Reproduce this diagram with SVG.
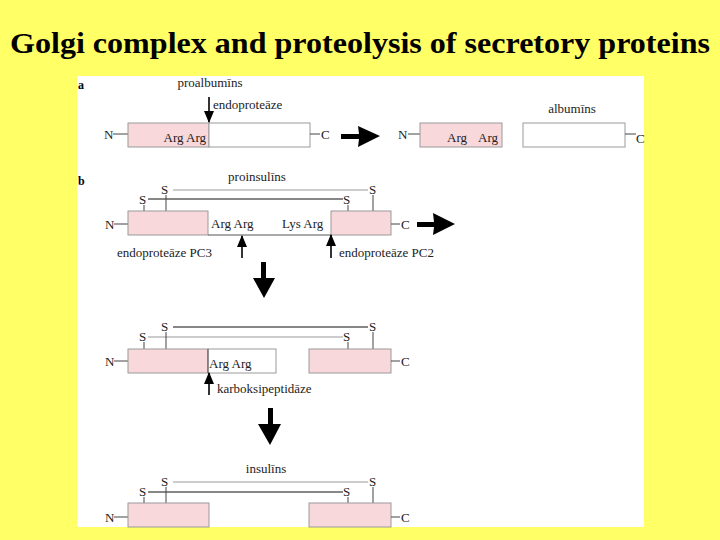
<svg xmlns="http://www.w3.org/2000/svg" width="720" height="540" viewBox="0 0 720 540">
<style>
.t{font-family:"Liberation Serif","Times New Roman",serif;font-size:13px;fill:#222}
.lab{font-family:"Liberation Serif","Times New Roman",serif;font-size:12px;font-weight:bold;fill:#000}
.pk{fill:#F8D8DA;stroke:#9a9a9a;stroke-width:1}
.wh{fill:#fff;stroke:#9a9a9a;stroke-width:1}
.ln{stroke:#444;stroke-width:1;fill:none}
.gl{stroke:#999;stroke-width:1.2;fill:none}
.bl{stroke:#111;stroke-width:1.2;fill:none}
.ar{stroke:#000;stroke-width:1.6;fill:none}
.big{fill:#000}
</style>
<defs>
<marker id="ah" viewBox="0 0 12 10" refX="11" refY="5" markerWidth="12" markerHeight="11" orient="auto" markerUnits="userSpaceOnUse">
<path d="M0,0 L12,5 L0,10 z" fill="#000"/>
</marker>
</defs>
<rect x="0" y="0" width="720" height="540" fill="#FFFF66"/>
<text x="10" y="53" textLength="700" lengthAdjust="spacingAndGlyphs" font-family="'Liberation Serif','Times New Roman',serif" font-weight="bold" font-size="30" fill="#000">Golgi complex and proteolysis of secretory proteins</text>
<rect x="77" y="76" width="567" height="451" fill="#fff"/>

<text class="lab" x="78" y="89">a</text>
<text class="lab" x="78" y="185">b</text>

<g id="proalbumin">
<text class="t" x="210" y="87" text-anchor="middle">proalbumīns</text>
<line class="ln" x1="113" y1="134" x2="128" y2="134"/>
<text class="t" x="104" y="139">N</text>
<rect class="pk" x="128" y="123" width="81" height="24"/>
<rect class="wh" x="209" y="123" width="101" height="24"/>
<text class="t" x="206" y="142" text-anchor="end">Arg Arg</text>
<line class="ln" x1="310" y1="134" x2="320" y2="134"/>
<text class="t" x="321" y="139">C</text>
<text class="t" x="213" y="109">endoproteāze</text>
</g>

<g id="albumin">
<line class="ln" x1="408" y1="134" x2="420" y2="134"/>
<text class="t" x="398" y="139">N</text>
<rect class="pk" x="420" y="123" width="82" height="24"/>
<text class="t" x="447" y="142">Arg</text>
<text class="t" x="478" y="142">Arg</text>
<rect class="wh" x="523" y="123" width="102" height="24"/>
<line class="ln" x1="625" y1="134" x2="636" y2="134"/>
<text class="t" x="636" y="143">C</text>
<text class="t" x="572" y="113" text-anchor="middle">albumīns</text>
</g>

<g id="proinsulin">
<text class="t" x="257" y="181" text-anchor="middle">proinsulīns</text>
<line class="gl" x1="173" y1="190" x2="368" y2="190"/>
<text class="t" x="161" y="194">S</text>
<text class="t" x="369" y="194">S</text>
<line class="bl" x1="148" y1="199" x2="343" y2="199"/>
<text class="t" x="139" y="204">S</text>
<text class="t" x="343" y="204">S</text>
<line class="ln" x1="144" y1="205" x2="144" y2="211"/>
<line class="ln" x1="166" y1="195" x2="166" y2="211"/>
<line class="ln" x1="348" y1="205" x2="348" y2="211"/>
<line class="ln" x1="373" y1="195" x2="373" y2="211"/>
<line class="ln" x1="114" y1="224" x2="128" y2="224"/>
<text class="t" x="105" y="229">N</text>
<rect class="pk" x="128" y="211" width="80" height="24"/>
<line x1="208" y1="235" x2="331" y2="235" stroke="#555" stroke-width="1"/>
<rect class="pk" x="331" y="211" width="60" height="24"/>
<text class="t" x="211" y="228">Arg Arg</text>
<text class="t" x="282" y="228">Lys Arg</text>
<line class="ln" x1="391" y1="224" x2="400" y2="224"/>
<text class="t" x="401" y="229">C</text>
<text class="t" x="117" y="257">endoproteāze PC3</text>
<text class="t" x="339" y="257">endoproteāze PC2</text>
</g>

<g id="intermediate">
<line class="bl" x1="173" y1="327" x2="368" y2="327"/>
<text class="t" x="161" y="331">S</text>
<text class="t" x="369" y="331">S</text>
<line class="gl" x1="148" y1="337" x2="343" y2="337"/>
<text class="t" x="139" y="341">S</text>
<text class="t" x="343" y="341">S</text>
<line class="ln" x1="144" y1="342" x2="144" y2="349"/>
<line class="ln" x1="166" y1="332" x2="166" y2="349"/>
<line class="ln" x1="348" y1="342" x2="348" y2="349"/>
<line class="ln" x1="373" y1="332" x2="373" y2="349"/>
<line class="ln" x1="114" y1="361" x2="128" y2="361"/>
<text class="t" x="105" y="366">N</text>
<rect class="pk" x="128" y="349" width="80" height="24"/>
<rect class="wh" x="208" y="349" width="68" height="24"/>
<line x1="208" y1="349" x2="208" y2="373" stroke="#555"/>
<text class="t" x="209" y="368">Arg Arg</text>
<rect class="pk" x="309" y="349" width="82" height="24"/>
<line class="ln" x1="391" y1="361" x2="400" y2="361"/>
<text class="t" x="401" y="366">C</text>
<text class="t" x="217" y="393">karboksipeptidāze</text>
</g>

<g id="insulin">
<text class="t" x="266" y="473" text-anchor="middle">insulīns</text>
<line class="gl" x1="173" y1="482" x2="368" y2="482"/>
<text class="t" x="161" y="486">S</text>
<text class="t" x="369" y="486">S</text>
<line class="bl" x1="148" y1="492" x2="343" y2="492"/>
<text class="t" x="139" y="496">S</text>
<text class="t" x="343" y="496">S</text>
<line class="ln" x1="144" y1="497" x2="144" y2="503"/>
<line class="ln" x1="166" y1="487" x2="166" y2="503"/>
<line class="ln" x1="348" y1="497" x2="348" y2="503"/>
<line class="ln" x1="373" y1="487" x2="373" y2="503"/>
<line class="ln" x1="114" y1="517" x2="128" y2="517"/>
<text class="t" x="105" y="522">N</text>
<rect class="pk" x="128" y="503" width="81" height="24"/>
<rect class="pk" x="309" y="503" width="82" height="24"/>
<line class="ln" x1="391" y1="517" x2="400" y2="517"/>
<text class="t" x="401" y="522">C</text>
</g>

<g id="connectors">
<line class="ar" x1="209" y1="97" x2="209" y2="122" marker-end="url(#ah)"/>
<line class="ar" x1="242" y1="258" x2="242" y2="236" marker-end="url(#ah)"/>
<line class="ar" x1="331" y1="258" x2="331" y2="235" marker-end="url(#ah)"/>
<line class="ar" x1="209" y1="395" x2="209" y2="373" marker-end="url(#ah)"/>
<polygon class="big" points="341,134 359,134 358,126 380,136 358,147 359,139 341,139"/>
<polygon class="big" points="417,222 434,222 433,213 455,224 433,235 434,227 417,227"/>
<polygon class="big" points="261,262 266,262 266,278 275,278 264,298 253,278 261,278"/>
<polygon class="big" points="268,408 273,408 273,424 281,424 270,445 258,424 268,424"/>
</g>
</svg>
